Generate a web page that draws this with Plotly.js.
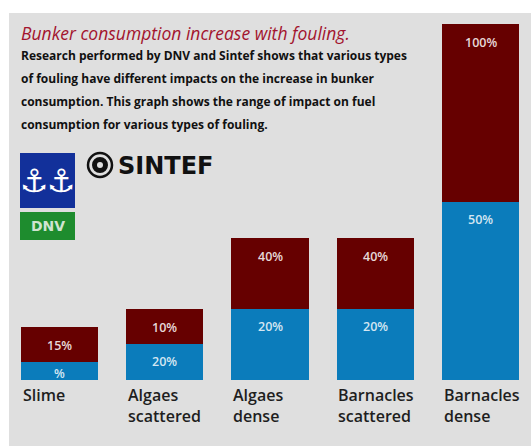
<!DOCTYPE html>
<html><head><meta charset="utf-8">
<script src="https://cdn.plot.ly/plotly-3.0.1.min.js"></script>
<style>html,body{margin:0;padding:0;background:#fff;} #chart{width:531px;height:446px;}</style>
</head><body><div id="chart"></div>
<script>
// ---- data ----
const categories = ["Slime", "Algaes scattered", "Algaes dense", "Barnacles scattered", "Barnacles dense"];
const categoryLabels = ["Slime", "Algaes<br>scattered", "Algaes<br>dense", "Barnacles<br>scattered", "Barnacles<br>dense"];
const lowValues = [5, 10, 20, 20, 50];
const highValues = [15, 20, 40, 40, 100];
const lowLabels = ["%", "20%", "20%", "20%", "50%"];
const highLabels = ["15%", "10%", "40%", "40%", "100%"];
const titleText = "Bunker consumption increase with fouling.";
const bodyLines = [
  "Research performed by DNV and Sintef shows that various types",
  "of fouling have different impacts on the increase in bunker",
  "consumption. This graph shows the range of impact on fuel",
  "consumption for various types of fouling."
];

// ---- layout helpers (pixel -> paper) ----
const W = 531, H = 446;
const PX = p => p / W;
const PY = p => 1 - p / H;

const RED = "#660000", BLUE = "#0b7cbb", GREY = "#dfdfdf";
const xIdx = categories.map((c, i) => i);
const rangeValues = highValues.map((h, i) => h - lowValues[i]);

const traces = [
  {type: "bar", x: xIdx, y: lowValues, marker: {color: BLUE}, hoverinfo: "skip", name: "low"},
  {type: "bar", x: xIdx, y: rangeValues, marker: {color: RED}, hoverinfo: "skip", name: "range"}
];

const barFont = {family: "Open Sans", size: 12.5, color: "#e6d8d8", weight: 600};
const annotations = [];
xIdx.forEach(i => {
  annotations.push({x: i, y: highValues[i], xref: "x", yref: "y", text: highLabels[i], showarrow: false,
    xanchor: "center", yanchor: "top", yshift: -8, font: barFont});
  annotations.push({x: i, y: lowValues[i], xref: "x", yref: "y", text: lowLabels[i], showarrow: false,
    xanchor: "center", yanchor: "top", yshift: lowValues[i] < 8 ? -1 : -7,
    font: Object.assign({}, barFont, {color: "#d4e6f2"})});
  annotations.push({x: i, y: 0, xref: "x", yref: "y", text: categoryLabels[i], showarrow: false,
    xanchor: "left", xshift: -39, yanchor: "top", yshift: -2, align: "left",
    font: {family: "Open Sans", size: 16, color: "#1e1e1e", weight: 600}});
});
annotations.push({x: PX(19), y: PY(33), xref: "paper", yref: "paper", xanchor: "left", yanchor: "middle",
  text: "<i>" + titleText + "</i>", showarrow: false,
  font: {family: "Open Sans", size: 17.5, color: "#a3142e"}});
bodyLines.forEach((t, k) => {
  annotations.push({x: PX(19), y: PY(55 + k * 23), xref: "paper", yref: "paper", xanchor: "left", yanchor: "middle",
    text: t, showarrow: false, font: {family: "Open Sans", size: 12, color: "#111", weight: 700}});
});
// logos
annotations.push({x: PX(34), y: PY(181), xref: "paper", yref: "paper", xanchor: "center", yanchor: "middle",
  text: "⚓", showarrow: false, font: {family: "DejaVu Sans", size: 32, color: "#ffffff"}});
annotations.push({x: PX(61.5), y: PY(181), xref: "paper", yref: "paper", xanchor: "center", yanchor: "middle",
  text: "⚓", showarrow: false, font: {family: "DejaVu Sans", size: 32, color: "#ffffff"}});
annotations.push({x: PX(47.5), y: PY(226), xref: "paper", yref: "paper", xanchor: "center", yanchor: "middle",
  text: "<b>DNV</b>", showarrow: false, font: {family: "DejaVu Sans", size: 14, color: "#d0e4d0"}});
annotations.push({x: PX(116), y: PY(166), xref: "paper", yref: "paper", xanchor: "left", yanchor: "middle",
  text: "<b>SINTEF</b>", showarrow: false, font: {family: "DejaVu Sans", size: 24, color: "#111"}});

const shapes = [
  {type: "rect", xref: "paper", yref: "paper", x0: PX(9), x1: 1, y0: 0, y1: PY(13), fillcolor: GREY, line: {width: 0}, layer: "below"},
  {type: "rect", xref: "paper", yref: "paper", x0: PX(20), x1: PX(75), y0: PY(208), y1: PY(153), fillcolor: "#12309a", line: {width: 0}, layer: "below"},
  {type: "rect", xref: "paper", yref: "paper", x0: PX(20), x1: PX(75), y0: PY(240), y1: PY(212), fillcolor: "#1e8c2e", line: {width: 0}, layer: "below"},
  {type: "circle", xref: "paper", yref: "paper", x0: PX(88), x1: PX(112), y0: PY(177), y1: PY(153), line: {color: "#111", width: 2.5}, fillcolor: "rgba(0,0,0,0)"},
  {type: "circle", xref: "paper", yref: "paper", x0: PX(93), x1: PX(107), y0: PY(172), y1: PY(158), line: {color: "#111", width: 2}, fillcolor: "#111"},
  {type: "circle", xref: "paper", yref: "paper", x0: PX(97), x1: PX(103), y0: PY(168), y1: PY(162), line: {width: 0}, fillcolor: GREY}
];

const layout = {
  width: W, height: H,
  margin: {l: 0, r: 0, t: 0, b: 0, autoexpand: false},
  paper_bgcolor: "#ffffff", plot_bgcolor: "rgba(0,0,0,0)",
  barmode: "stack", bargap: 0.268, showlegend: false,
  xaxis: {range: [-0.5653, 4.4798], visible: false, fixedrange: true},
  yaxis: {range: [-18.5, 106.7], visible: false, fixedrange: true},
  annotations: annotations, shapes: shapes
};
Plotly.newPlot("chart", traces, layout, {displayModeBar: false, staticPlot: true});
</script></body></html>
